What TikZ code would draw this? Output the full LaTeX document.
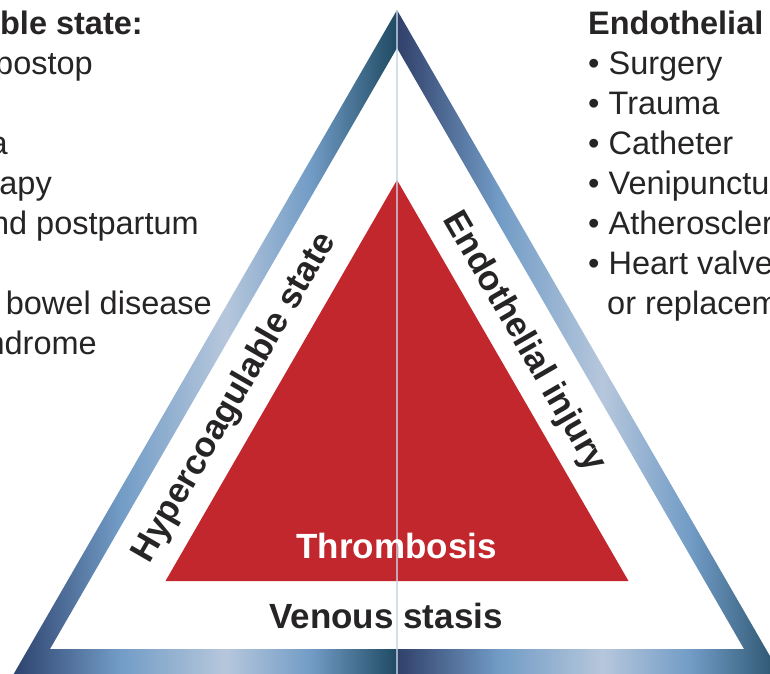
\documentclass[tikz,border=0pt]{standalone}
\usepackage{fontspec}
\setmainfont{Liberation Sans}
\definecolor{dkL}{HTML}{2E4470}
\definecolor{dkT}{HTML}{1F4A62}
\definecolor{dkN}{HTML}{30406A}
\definecolor{dkR}{HTML}{27506A}
\definecolor{midB}{HTML}{729CC6}
\definecolor{ltB}{HTML}{B6C7DC}
\definecolor{thrRed}{HTML}{C1272D}
\definecolor{txt}{HTML}{262424}
\definecolor{vline}{HTML}{C5D3E0}
\pgfdeclarehorizontalshading{bandleft}{100bp}{color(0bp)=(dkL); color(25.6bp)=(dkL); color(39.2bp)=(midB); color(52.8bp)=(ltB); color(63.8bp)=(midB); color(75bp)=(dkT); color(100bp)=(dkT)}
\pgfdeclarehorizontalshading{bandright}{100bp}{color(0bp)=(dkN); color(25bp)=(dkN); color(38.3bp)=(midB); color(51.6bp)=(ltB); color(62.9bp)=(midB); color(75bp)=(dkR); color(100bp)=(dkR)}
\tikzset{
  listtxt/.style={inner sep=0pt, text=txt, font=\fontsize{32.5}{38}\selectfont},
  listhead/.style={inner sep=0pt, text=txt, font=\fontsize{32.5}{38}\selectfont\bfseries},
  sidelabel/.style={inner sep=0pt, text=txt, font=\fontsize{35}{40}\selectfont\bfseries},
  centerlabel/.style={inner sep=0pt, text=white, font=\fontsize{35}{40}\selectfont\bfseries},
}
\begin{document}
\begin{tikzpicture}[x=1pt,y=-1pt]
\useasboundingbox (0,0) rectangle (770,673);
\clip (0,0) rectangle (770,673);
% geometry
\coordinate (OA) at (397,10);
\coordinate (OL) at (10.2,680);
\coordinate (OR) at (783.8,680);
\coordinate (OM) at (397,680);
\coordinate (IA) at (397,48);
\coordinate (IL) at (50,649);
\coordinate (IR) at (744,649);
\coordinate (IM) at (397,649);
\coordinate (RA) at (397,180);
\coordinate (RL) at (165.5,581);
\coordinate (RR) at (628.5,581);
% band halves
\shade[shading=bandleft] (OA) -- (OL) -- (OM) -- (IM) -- (IL) -- (IA) -- cycle;
\shade[shading=bandright] (OA) -- (OR) -- (OM) -- (IM) -- (IR) -- (IA) -- cycle;
% red triangle
\fill[thrRed] (RA) -- (RL) -- (RR) -- cycle;
% vertical centre line
\draw[vline, line width=1.5pt, opacity=0.75] (OA) -- (OM);
% labels
\node[centerlabel, anchor=base] (thr) at (396.5,558) {Thrombosis};
\node[sidelabel, anchor=base] (ven) at (386,628) {Venous stasis};
\node[sidelabel, rotate=60] (hyp) at (235,398) {Hypercoagulable state};
\node[sidelabel, rotate=-60] (endo) at (524,342) {Endothelial injury};
% left list (cut off)
\node[listhead, anchor=base east] (l1) at (143,34) {ble state:};
\node[listtxt, anchor=base east] (l2) at (93,74) {postop};
\node[listtxt, anchor=base east] (l4) at (8,154) {a};
\node[listtxt, anchor=base east] (l5) at (52,194) {rapy};
\node[listtxt, anchor=base east] (l6) at (199,234) {nd postpartum};
\node[listtxt, anchor=base east] (l8) at (212,314) {bowel disease};
\node[listtxt, anchor=base east] (l9) at (97,354) {ndrome};
% right list (cut off)
\node[listhead, anchor=base west] (r1) at (588,34) {Endothelial};
\node[listtxt, anchor=base west] (r2) at (588,74) {• Surgery};
\node[listtxt, anchor=base west] (r3) at (588,114) {• Trauma};
\node[listtxt, anchor=base west] (r4) at (588,154) {• Catheter};
\node[listtxt, anchor=base west] (r5) at (588,194) {• Venipunctu};
\node[listtxt, anchor=base west] (r6) at (588,234) {• Atheroscler};
\node[listtxt, anchor=base west] (r7) at (588,274) {• Heart valve};
\node[listtxt, anchor=base west] (r8) at (607,314) {or replacem};
\end{tikzpicture}
\end{document}
